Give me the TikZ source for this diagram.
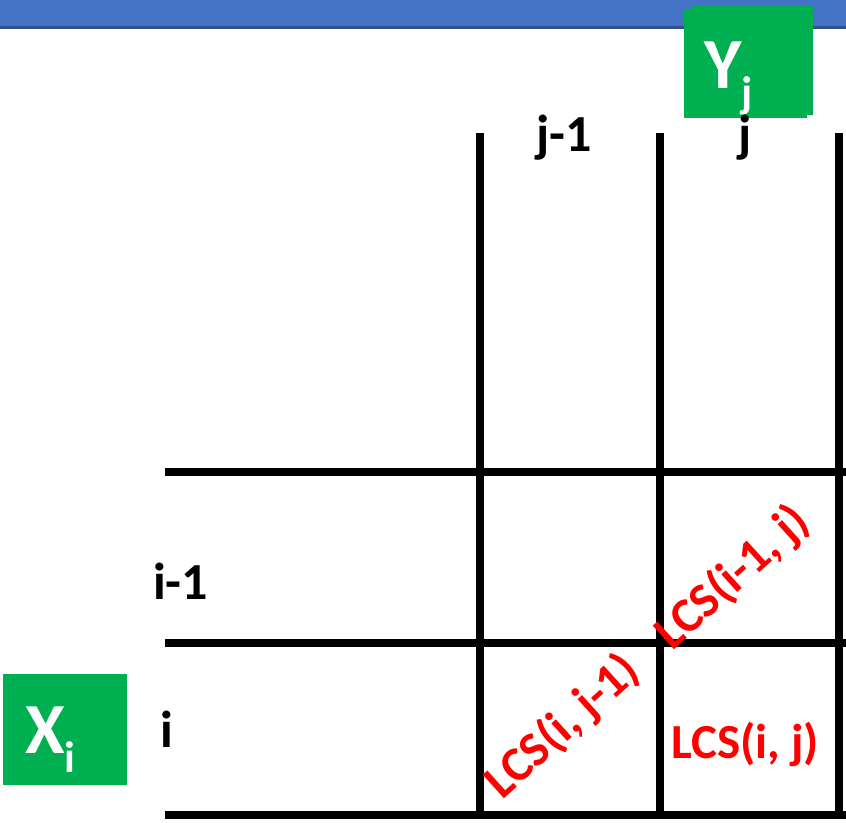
\documentclass[tikz,border=0pt]{standalone}
\usepackage{fontspec}
\setmainfont{Carlito}
\usepackage{xcolor}
\usetikzlibrary{positioning}

\definecolor{barblue}{HTML}{4472C4}
\definecolor{baredge}{HTML}{2F528F}
\definecolor{seqgreen}{HTML}{00B050}

\begin{document}
\begin{tikzpicture}[x=1pt, y=-1pt,
    gridline/.style={line width=7.5pt},
    idxlabel/.style={font=\fontsize{52}{52}\selectfont\bfseries, inner sep=0pt, anchor=base west},
    lcslabel/.style={text=red, font=\fontsize{49}{49}\selectfont\bfseries, inner sep=0pt},
    seqbox/.style={fill=seqgreen, draw=none},
    seqname/.style={text=white, font=\fontsize{72}{72}\selectfont\bfseries, inner sep=0pt, anchor=base west}
]
\useasboundingbox (0,0) rectangle (846,822);

% top bar
\fill[barblue] (0,0) rectangle (846,26);
\fill[baredge] (0,26) rectangle (846,28.5);

% sequence boxes
\fill[seqbox] (684,9) rectangle (807,118);
\fill[seqbox] (692,6) rectangle (813,115);
\fill[seqbox] (3,674) rectangle (127,785);

\node[seqname] (yname) at (704,88) {Y\raisebox{-19pt}{\fontsize{44}{44}\selectfont j}};
\node[seqname] (xname) at (25,753) {X\raisebox{-19pt}{\fontsize{44}{44}\selectfont i}};

% table grid
\foreach \x in {480,660,839}
  \draw[gridline] (\x,133) -- (\x,818.5);
\foreach \y in {472,643,815}
  \draw[gridline] (165,\y) -- (846,\y);

% row and column indices
\node[idxlabel] (colprev) at (536,151) {j-1};
\node[idxlabel] (colcur) at (738,151) {j};
\node[idxlabel] (rowprev) at (153,599) {i-1};
\node[idxlabel] (rowcur) at (160,747) {i};

% cell entries
\node[lcslabel, rotate=42] (lcsup) at (733,578) {LCS(i-1, j)};
\node[lcslabel, rotate=42] (lcsleft) at (563,727) {LCS(i, j-1)};
\node[lcslabel] (lcscur) at (745,744) {LCS(i, j)};

\end{tikzpicture}
\end{document}
